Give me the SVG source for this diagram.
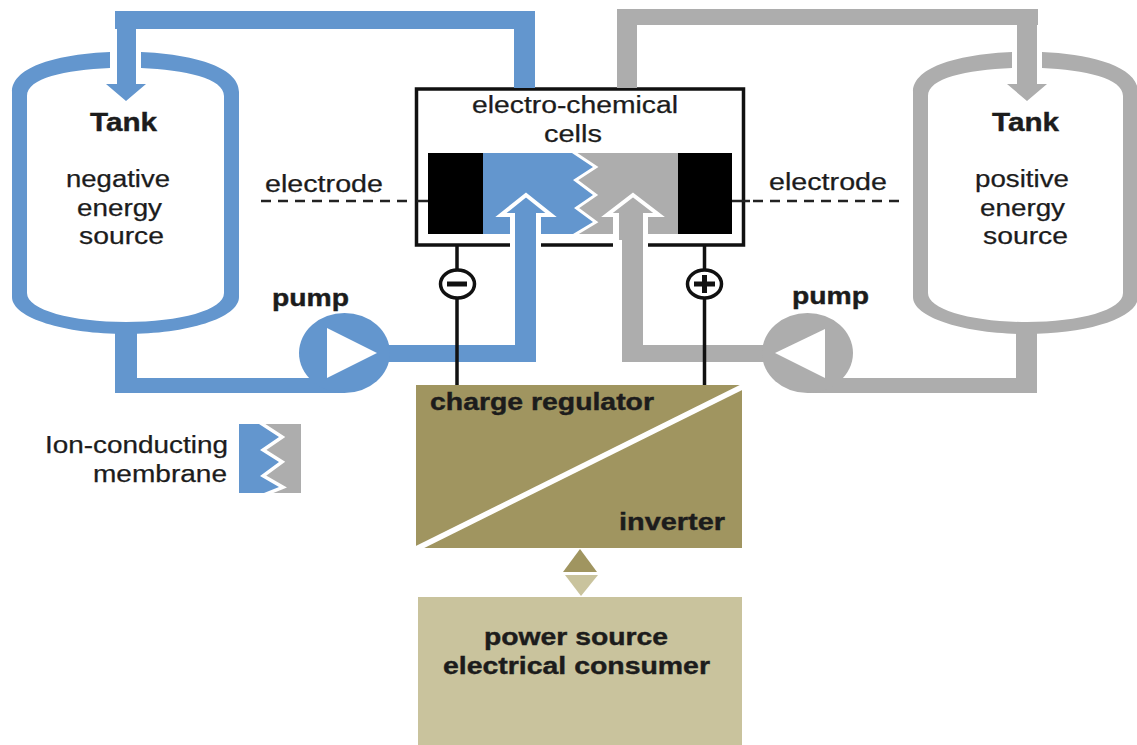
<svg xmlns="http://www.w3.org/2000/svg" width="1137" height="745" viewBox="0 0 1137 745">
<style>
text{font-family:"Liberation Sans",Arial,sans-serif;fill:#1c1c1c;font-size:23px;stroke:#1c1c1c;stroke-width:.25px}
.b{font-weight:bold;stroke-width:.4px}
.t{font-size:25px}
.blue{fill:#6396CE}
.gray{fill:#ADADAD}
.wire{fill:none;stroke:#111;stroke-width:3.5}
.dash{fill:none;stroke:#222;stroke-width:2.5;stroke-dasharray:10 7}
.solid{fill:none;stroke:#222;stroke-width:2.5}
.halo{stroke:#fff;stroke-width:4;stroke-linejoin:miter}
.olive{fill:#A09560}
.khaki{fill:#C9C39D}
</style>
<rect width="1137" height="745" fill="#fff"/>
<g id="tank-negative">
<path class="blue" d="M110 52C60 54 12 66 12 92V297C12 318 65 334 126 334C187 334 239 318 239 297V92C239 66 190 54 141 52V68C185 70 224 78 224 96V293C224 310 180 322 126 322C72 322 27 310 27 293V96C27 78 65 70 110 68Z"/>
<text class="b t" x="90" y="131" textLength="67" lengthAdjust="spacingAndGlyphs">Tank</text>
<text x="66" y="187" textLength="104" lengthAdjust="spacingAndGlyphs">negative</text>
<text x="77" y="216" textLength="85" lengthAdjust="spacingAndGlyphs">energy</text>
<text x="79" y="244" textLength="85" lengthAdjust="spacingAndGlyphs">source</text>
</g>
<g id="tank-positive">
<path class="gray" d="M1012 52C962 54 913 66 913 92V297C913 318 966 334 1027 334C1088 334 1138 318 1138 297V92C1138 66 1090 54 1042 52V68C1085 70 1123 78 1123 96V293C1123 310 1080 322 1027 322C973 322 928 310 928 293V96C928 78 966 70 1012 68Z"/>
<text class="b t" x="992" y="131" textLength="67" lengthAdjust="spacingAndGlyphs">Tank</text>
<text x="975" y="187" textLength="94" lengthAdjust="spacingAndGlyphs">positive</text>
<text x="980" y="216" textLength="85" lengthAdjust="spacingAndGlyphs">energy</text>
<text x="983" y="244" textLength="85" lengthAdjust="spacingAndGlyphs">source</text>
</g>
<g id="cell">
<rect x="416.500" y="89" width="327" height="156" fill="#fff" stroke="#111" stroke-width="3.500"/>
<text x="472" y="113" textLength="206" lengthAdjust="spacingAndGlyphs">electro-chemical</text>
<text x="544" y="142" textLength="58" lengthAdjust="spacingAndGlyphs">cells</text>
<rect x="428" y="153" width="55" height="81" fill="#000"/>
<rect x="678" y="153" width="54" height="81" fill="#000"/>
<rect class="gray" x="570" y="153" width="108" height="81"/>
<path class="blue" stroke="#fff" stroke-width="6" paint-order="stroke" d="M483 153H572L593 167L573 180L593 195L574 208L593 222L573 234H483Z"/>
<rect x="478" y="148" width="105" height="5" fill="#fff"/>
<rect x="478" y="234" width="105" height="5" fill="#fff"/>
<rect x="428" y="153" width="55" height="81" fill="#000"/>
</g>
<g id="connectors">
<path class="blue" d="M115 11H535V88H514V29H136V84H146L126 101L106 84H117V29H115Z"/>
<path class="gray" d="M617 88V9H1038V25H1037V84H1047L1027 101L1007 84H1017V25H637V88Z"/>
<path class="blue" d="M115 330H137V378H345V393H115Z"/>
<path class="gray" d="M1016 330H1037V393H808V378H1016Z"/>
<path class="dash" d="M407 201H261"/>
<path class="solid" d="M417 201H428"/>
<path class="dash" d="M753 201H902"/>
<path class="solid" d="M732 201H750"/>
<rect x="510" y="212" width="31" height="38" fill="#fff"/>
<rect x="613" y="212" width="35" height="38" fill="#fff"/>
<path class="blue halo" d="M526 195L551 215H501Z"/>
<path class="gray halo" d="M633 195L659 215H607Z"/>
<rect class="blue" x="515" y="212" width="21" height="22"/>
<rect class="gray" x="619" y="212" width="24" height="22"/>
<path class="blue" d="M380 345H515V234H536V362H380Z"/>
<path class="gray" d="M780 345H643V234H619V240H622V362H780Z"/>
<path class="wire" d="M457 246V385M704.500 246V385"/>
</g>
<g id="pump-negative">
<ellipse class="blue" cx="344.500" cy="353" rx="45.500" ry="40"/>
<path fill="#fff" d="M327 328V378L377 353Z"/>
<text class="b" x="272" y="306" textLength="77" lengthAdjust="spacingAndGlyphs">pump</text>
</g>
<g id="pump-positive">
<ellipse class="gray" cx="807.500" cy="353" rx="45.500" ry="40"/>
<path fill="#fff" d="M825 329V378L775 353Z"/>
<text class="b" x="792" y="304" textLength="77" lengthAdjust="spacingAndGlyphs">pump</text>
</g>
<g id="terminal-negative">
<ellipse cx="457.500" cy="284" rx="17" ry="14" fill="#fff" stroke="#111" stroke-width="3.500"/>
<path d="M447 284H467" stroke="#111" stroke-width="5"/>
</g>
<g id="terminal-positive">
<ellipse cx="704.500" cy="284" rx="17" ry="14" fill="#fff" stroke="#111" stroke-width="3.500"/>
<path d="M694 284H715M704.500 275V293" stroke="#111" stroke-width="5"/>
</g>
<g id="electrode-labels">
<text x="265" y="192" textLength="118" lengthAdjust="spacingAndGlyphs">electrode</text>
<text x="769" y="190" textLength="118" lengthAdjust="spacingAndGlyphs">electrode</text>
</g>
<g id="membrane-legend">
<text x="45" y="453" textLength="183" lengthAdjust="spacingAndGlyphs">Ion-conducting</text>
<text x="93" y="482" textLength="134" lengthAdjust="spacingAndGlyphs">membrane</text>
<rect class="gray" x="262" y="424" width="39" height="69"/>
<path class="blue" stroke="#fff" stroke-width="7" paint-order="stroke" d="M239 424H259L279 437L260 450L279 462L260 476L279 487L264 493H239Z"/>
<rect x="230" y="418" width="50" height="6" fill="#fff"/>
<rect x="230" y="493" width="50" height="6" fill="#fff"/>
<rect x="233" y="424" width="6" height="69" fill="#fff"/>
</g>
<g id="charge-regulator">
<rect class="olive" x="416" y="385" width="326" height="163"/>
<path d="M416 549L744 386" stroke="#fff" stroke-width="5.500"/>
<text class="b" x="430" y="410" textLength="224" lengthAdjust="spacingAndGlyphs">charge regulator</text>
<text class="b" x="619" y="530" textLength="106" lengthAdjust="spacingAndGlyphs">inverter</text>
</g>
<g id="power-exchange">
<path class="olive" d="M580 549L597 572H563Z"/>
<path class="khaki" d="M565 575H598L581 596Z"/>
</g>
<g id="power-source">
<rect class="khaki" x="418" y="597" width="324" height="148"/>
<text class="b" x="484" y="645" textLength="184" lengthAdjust="spacingAndGlyphs">power source</text>
<text class="b" x="443" y="674" textLength="267" lengthAdjust="spacingAndGlyphs">electrical consumer</text>
</g>
</svg>
